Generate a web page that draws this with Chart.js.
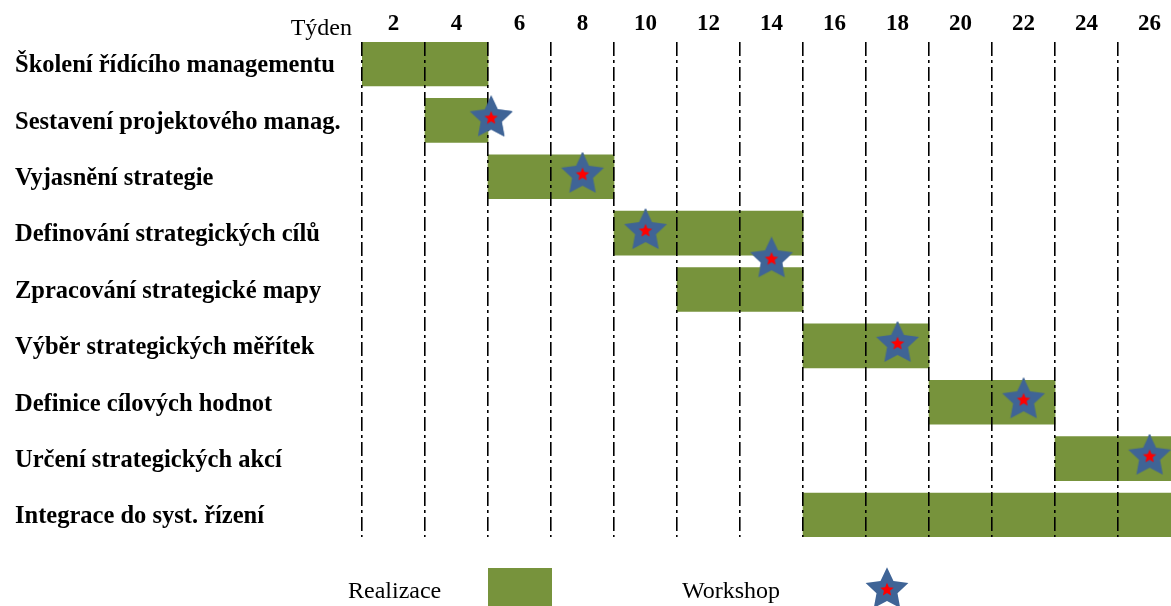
<!DOCTYPE html>
<html>
<head>
<meta charset="utf-8">
<script src="https://cdn.jsdelivr.net/npm/chart.js@4/dist/chart.umd.min.js"></script>
<style>
  html, body { margin: 0; padding: 0; background: #fff; }
  #wrap { position: relative; width: 1171px; height: 606px; overflow: hidden; }
  #chart { position: absolute; left: 0; top: 0; }
  .txt { position: absolute; font-family: 'Liberation Serif', 'Times New Roman', serif; font-size: 24px; line-height: 24px; color: #000; white-space: nowrap; }
</style>
</head>
<body>
<div id="wrap">
  <canvas id="chart" width="1171" height="606"></canvas>
  <div class="txt" id="tyden" style="right:819px; top:15px;">Týden</div>
  <div class="txt" style="left:348px; top:578px;">Realizace</div>
  <div id="legBox" style="position:absolute; left:488px; top:568px; width:64px; height:40px; background:#77933C;"></div>
  <div class="txt" style="left:682px; top:578px;">Workshop</div>
  <canvas id="legStar" width="50" height="50" style="position:absolute; left:862px; top:567px;"></canvas>
</div>
<script>
// ---- data ----
const tasks = [
  'Školení řídícího managementu',
  'Sestavení projektového manag.',
  'Vyjasnění strategie',
  'Definování strategických cílů',
  'Zpracování strategické mapy',
  'Výběr strategických měřítek',
  'Definice cílových hodnot',
  'Určení strategických akcí',
  'Integrace do syst. řízení'
];
const startWeeks = [1, 3, 5, 9, 11, 15, 19, 23, 15];
const endWeeks   = [5, 5, 9, 15, 15, 19, 23, 27, 27];
const workshopWeeks = [5.1, 8, 10, 14, 18, 22, 26];
const workshopRows  = [1, 2, 3, 3.5, 5, 6, 7];
const weekTicks = [2, 4, 6, 8, 10, 12, 14, 16, 18, 20, 22, 24, 26];
const allWeeks = [1, 2, 3, 4, 5, 6, 7, 8, 9, 10, 11, 12, 13, 14, 15, 16, 17, 18, 19, 20, 21, 22, 23, 24, 25, 26];

// ---- styles ----
const GREEN = '#77933C';
const BLUE = '#3F6496';
const RED = '#FF0000';

function drawStar(ctx, cx, cy, R, r, color) {
  ctx.beginPath();
  for (let i = 0; i < 10; i++) {
    const a = -Math.PI / 2 + i * Math.PI / 5;
    const rad = (i % 2 === 0) ? R : r;
    const px = cx + rad * Math.cos(a), py = cy + rad * Math.sin(a);
    if (i === 0) ctx.moveTo(px, py); else ctx.lineTo(px, py);
  }
  ctx.closePath();
  ctx.fillStyle = color;
  ctx.fill();
}
function paintStar(cv) {
  const c = cv.getContext('2d');
  const R = 22.5;
  const cx = 25, cy = 25 - 0.095 * R;
  drawStar(c, cx, cy, R, R * 0.49, BLUE);
  drawStar(c, cx, cy, 7, 3.2, RED);
}
const starImg = document.createElement('canvas');
starImg.width = 50; starImg.height = 50;
paintStar(starImg);
paintStar(document.getElementById('legStar'));

const redrawStars = {
  id: 'redrawStars',
  afterDraw(chart) {
    const meta = chart.getDatasetMeta(1);
    if (meta && meta.controller) meta.controller.draw();
  }
};

const barData = tasks.map((t, i) => ({ x: [startWeeks[i], endWeeks[i]], y: i }));
const starData = workshopWeeks.map((w, i) => ({ x: w, y: workshopRows[i] }));

new Chart(document.getElementById('chart'), {
  type: 'bar',
  data: {
    datasets: [
      {
        type: 'bar',
        indexAxis: 'y',
        data: barData,
        backgroundColor: GREEN,
        borderWidth: 0,
        barThickness: 44,
        xAxisID: 'x',
        yAxisID: 'y'
      },
      {
        type: 'scatter',
        data: starData,
        pointStyle: starImg,
        pointRadius: 22,
        clip: false,
        xAxisID: 'x',
        yAxisID: 'y'
      }
    ]
  },
  options: {
    indexAxis: 'y',
    responsive: false,
    animation: false,
    events: [],
    layout: { autoPadding: false, padding: { left: 15, right: 0, top: 0, bottom: 69 } },
    plugins: { legend: { display: false }, tooltip: { enabled: false } },
    scales: {
      x: {
        type: 'linear',
        position: 'top',
        offset: false,
        beginAtZero: false,
        min: 1,
        max: 26.68,
        afterBuildTicks: (s) => { s.ticks = allWeeks.map(v => ({ value: v })); },
        afterFit: (s) => { s.height = 42; s.paddingLeft = 0; s.paddingRight = 0; },
        ticks: {
          autoSkip: false,
          maxRotation: 0,
          padding: 4,
          color: '#000',
          font: { family: "'Liberation Serif', 'Times New Roman', serif", size: 23, weight: 'bold' },
          callback: (v) => weekTicks.includes(v) ? String(v) : ''
        },
        grid: {
          offset: false,
          drawTicks: false,
          z: 1,
          lineWidth: 1.6,
          color: (ctx) => (ctx.tick && ctx.tick.value % 2 === 1) ? '#000' : 'rgba(0,0,0,0)'
        },
        border: { display: false, dash: [14, 4, 3, 4] }
      },
      y: {
        type: 'linear',
        reverse: true,
        offset: false,
        beginAtZero: false,
        min: -0.39,
        max: 8.39,
        afterBuildTicks: (s) => { s.ticks = tasks.map((t, i) => ({ value: i })); },
        afterFit: (s) => { s.width = 347; s.paddingTop = 0; s.paddingBottom = 0; },
        ticks: {
          autoSkip: false,
          crossAlign: 'far',
          labelOffset: 2,
          color: '#000',
          font: { family: "'Liberation Serif', 'Times New Roman', serif", size: 24.5, weight: 'bold' },
          callback: (v) => tasks[Math.round(v)]
        },
        grid: { display: false, offset: false },
        border: { display: false }
      }
    }
  },
  plugins: [redrawStars]
});
</script>
</body>
</html>
